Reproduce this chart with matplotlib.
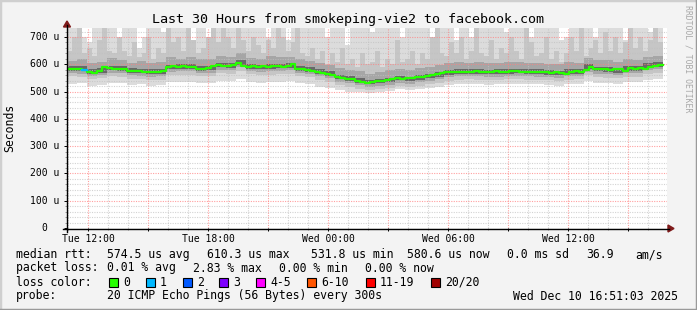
import numpy as np
import matplotlib
matplotlib.use('Agg')
import matplotlib.pyplot as plt
import matplotlib.transforms as mtransforms
from matplotlib.patches import Rectangle, Polygon
from matplotlib.lines import Line2D

W, H = 697, 310
MONO = 'DejaVu Sans Mono'

# time in hours since Tue 00:00
t_start, t_end = 10.95, 40.75
x_lim = (10.95, 40.95)
y_lim = (0, 733)

label_hours = [12, 18, 24, 30, 36]
label_text = ['Tue 12:00', 'Tue 18:00', 'Wed 00:00', 'Wed 06:00', 'Wed 12:00']
y_ticks = [0, 100, 200, 300, 400, 500, 600, 700]

# median rtt (us), one value per 15 min
median = [584, 584, 582, 579, 572, 569, 576, 590, 585, 581,
          583, 582, 575, 577, 574, 573, 571, 570, 572, 575,
          589, 592, 591, 593, 591, 590, 584, 581, 585, 594,
          597, 595, 594, 599, 606, 594, 591, 593, 589, 592,
          591, 593, 592, 589, 595, 600, 584, 582, 580, 574,
          571, 569, 565, 560, 552, 549, 547, 546, 540, 536,
          533, 535, 537, 540, 541, 546, 548, 545, 549, 550,
          553, 555, 558, 561, 564, 568, 570, 572, 571, 573,
          571, 572, 574, 570, 572, 571, 575, 573, 572, 574,
          575, 572, 573, 571, 572, 570, 571, 569, 570, 567,
          566, 572, 575, 573, 578, 590, 582, 581, 583, 580,
          584, 581, 576, 586, 583, 585, 583, 590, 594, 598]
loss_events = {3: 1}

# highest ping, per 15 min
ping_max = [735, 740, 740, 700, 680, 740, 740, 725, 740, 740,
            690, 740, 740, 740, 660, 700, 740, 740, 740, 720,
            740, 740, 740, 740, 740, 680, 740, 740, 690, 740,
            740, 740, 740, 740, 710, 740, 740, 740, 740, 740,
            700, 740, 740, 740, 690, 740, 740, 740, 740, 740,
            740, 740, 700, 740, 740, 740, 670, 740, 740, 740,
            740, 720, 740, 740, 740, 740, 740, 700, 740, 740,
            740, 740, 740, 680, 740, 740, 740, 740, 690, 740,
            740, 700, 740, 740, 740, 740, 740, 740, 720, 740,
            740, 740, 680, 700, 740, 740, 740, 740, 740, 690,
            700, 740, 740, 740, 740, 740, 700, 740, 740, 740,
            740, 740, 690, 740, 740, 740, 740, 720, 740, 740]

# upper spread of pings, per 15 min
p90 = [650, 700, 735, 640, 660, 630, 690, 735, 650, 640,
       700, 650, 630, 680, 625, 640, 700, 620, 660, 640,
       735, 680, 700, 650, 735, 690, 640, 660, 700, 735,
       680, 735, 700, 660, 735, 690, 650, 700, 670, 640,
       690, 660, 735, 700, 650, 680, 735, 640, 630, 660,
       620, 650, 600, 640, 610, 660, 600, 620, 590, 640,
       600, 610, 650, 590, 620, 600, 690, 610, 620, 650,
       600, 640, 620, 700, 735, 640, 630, 680, 640, 700,
       620, 650, 735, 640, 630, 690, 620, 660, 640, 700,
       650, 620, 735, 680, 630, 640, 700, 620, 650, 610,
       640, 700, 650, 735, 630, 660, 690, 640, 720, 650,
       700, 640, 680, 735, 660, 700, 650, 690, 735, 680]

# ping spread, per 30 min
ping_min = [528, 530, 522, 525, 532, 530, 524, 526, 522, 524, 535, 536, 536, 530, 532,
            540, 538, 545, 534, 532, 535, 536, 538, 530, 526, 518, 512, 505, 500, 498,
            494, 500, 503, 508, 505, 510, 514, 518, 524, 528, 528, 526, 525, 526, 528,
            529, 527, 526, 524, 522, 527, 528, 540, 532, 531, 528, 535, 534, 542, 545]
p10 = [556, 554, 545, 548, 556, 555, 547, 546, 543, 544, 560, 562, 562, 556, 557,
       568, 566, 576, 563, 560, 562, 563, 566, 556, 552, 544, 536, 524, 518, 511,
       505, 508, 512, 520, 517, 522, 527, 533, 540, 544, 545, 544, 542, 543, 545,
       546, 544, 543, 541, 539, 544, 545, 560, 552, 551, 548, 555, 555, 565, 568]
p30 = [568, 566, 557, 560, 569, 567, 559, 558, 555, 556, 573, 575, 574, 568, 569,
       580, 578, 589, 575, 573, 575, 576, 579, 568, 564, 556, 549, 536, 531, 523,
       517, 520, 524, 532, 529, 534, 539, 545, 552, 556, 557, 556, 554, 555, 557,
       558, 556, 555, 553, 551, 556, 557, 573, 565, 564, 560, 567, 567, 578, 581]
p40 = [577, 575, 565, 569, 578, 576, 568, 567, 564, 565, 582, 584, 584, 577, 578,
       590, 587, 598, 584, 582, 584, 585, 588, 577, 573, 564, 558, 545, 540, 533,
       526, 530, 534, 541, 538, 543, 548, 554, 561, 565, 566, 565, 563, 564, 566,
       567, 565, 564, 562, 560, 565, 566, 582, 574, 573, 569, 576, 576, 587, 590]
p60 = [593, 592, 582, 586, 594, 593, 585, 584, 581, 582, 598, 601, 600, 594, 595,
       606, 604, 615, 601, 598, 601, 602, 604, 594, 590, 581, 575, 562, 557, 550,
       544, 547, 551, 558, 555, 560, 565, 571, 578, 582, 583, 582, 580, 581, 583,
       584, 582, 581, 579, 577, 582, 583, 600, 591, 590, 586, 593, 593, 604, 608]
p70 = [612, 618, 606, 610, 622, 615, 606, 612, 604, 608, 625, 620, 628, 618, 620,
       632, 626, 640, 624, 620, 630, 626, 628, 618, 612, 604, 598, 585, 580, 575,
       566, 572, 578, 584, 580, 586, 590, 596, 604, 608, 606, 610, 604, 606, 610,
       608, 604, 606, 602, 600, 608, 606, 624, 616, 614, 610, 618, 616, 628, 630]

loss_labels = ['0', '1', '2', '3', '4-5', '6-10', '11-19', '20/20']
loss_colors = ['#26ff00', '#00b8ff', '#0059ff', '#7e00ff', '#ff00ff', '#ff5500', '#ff0000', '#a00000']
loss_box_x = [109, 146, 183, 219, 256, 307, 366, 431]

row_rtt = [('median rtt:', 16), ('574.5 us avg', 107), ('610.3 us max', 207), ('531.8 us min', 311),
           ('580.6 us now', 407), ('0.0 ms sd', 507), ('36.9', 586), ('am/s', 635)]
row_loss = [('packet loss:', 16), ('0.01 % avg', 107), ('2.83 % max', 193),
            ('0.00 % min', 279), ('0.00 % now', 365)]
row_probe = [('probe:', 16), ('20 ICMP Echo Pings (56 Bytes) every 300s', 107),
             ('Wed Dec 10 16:51:03 2025', 513)]


def fx(x):
    return x / W


def fy(y):
    return 1 - y / H


fig = plt.figure(figsize=(W / 100, H / 100), dpi=100, facecolor='#f3f3f3')
ax = fig.add_axes([fx(67), fy(228), 600 / W, 200 / H], facecolor='white')
ax.set_xlim(*x_lim)
ax.set_ylim(*y_lim)
for s in ax.spines.values():
    s.set_visible(False)


def steps(vals):
    edges = np.linspace(t_start, t_end, len(vals) + 1)
    return edges, np.append(vals, vals[-1])


def band(lo, hi, color):
    e1, lo_s = steps(lo)
    e2, hi_s = steps(hi)
    if len(lo) != len(hi):
        # put both on the finer grid
        e = np.union1d(e1, e2)
        lo_s = np.array(lo + [lo[-1]])[np.clip(np.searchsorted(e1, e, side='right') - 1, 0, len(lo))]
        hi_s = np.array(hi + [hi[-1]])[np.clip(np.searchsorted(e2, e, side='right') - 1, 0, len(hi))]
        e1 = e
    ax.fill_between(e1, lo_s, hi_s, step='post', color=color, lw=0, zorder=1)


# smoke
band(ping_min, ping_max, '#dcdcdc')
band(p10, p90, '#c6c6c6')
band(p30, p70, '#a6a6a6')
band(p40, p60, '#686868')

# grid
for h in range(11, 41):
    major = h % 3 == 0
    ax.axvline(h, color='#ff8080' if major else '#c0c0c0', alpha=0.75 if major else 0.7,
               lw=0.8, ls=(0, (1, 1.2)), zorder=2)
for v in range(20, 740, 20):
    major = v % 100 == 0
    ax.axhline(v, color='#ff8080' if major else '#c0c0c0', alpha=0.75 if major else 0.7,
               lw=0.8, ls=(0, (1, 1.2)), zorder=2)

# median line
edges_med, med_s = steps(median)
ax.plot(edges_med, med_s, drawstyle='steps-post', color=loss_colors[0], lw=1.6, zorder=3)
for i, n in loss_events.items():
    ax.plot(edges_med[i:i + 2], [median[i], median[i]], color=loss_colors[n], lw=1.6, zorder=4)

# ticks
ax.set_xticks(range(12, 40, 3))
ax.set_xticklabels([label_text[label_hours.index(h)] if h in label_hours else ''
                    for h in range(12, 40, 3)], family=MONO, fontsize=7.05)
ax.set_xticks(range(11, 41), minor=True)
ax.set_yticks(y_ticks)
ax.set_yticklabels([])
ax.set_yticks(range(20, 740, 20), minor=True)
ax.tick_params(axis='both', which='major', length=2.2, width=0.7, color='black', pad=2)
ax.tick_params(axis='both', which='minor', length=1.5, width=0.7, color='#999999')
ax.tick_params(axis='y', which='both', labelleft=False)

ytrans = mtransforms.blended_transform_factory(fig.transFigure, ax.transData)
for v in y_ticks:
    if v == 0:
        ax.text(fx(47), v, '0', transform=ytrans, ha='right', va='center',
                family=MONO, fontsize=7.05)
    else:
        ax.text(fx(59), v, '%d u' % v, transform=ytrans, ha='right', va='center',
                family=MONO, fontsize=7.05)

# axis lines and arrows
fig.add_artist(Line2D([fx(63), fx(669)], [fy(228.5), fy(228.5)], color='black', lw=1.0))
fig.add_artist(Line2D([fx(67), fx(67)], [fy(232), fy(25)], color='black', lw=1.0))
fig.add_artist(Polygon([(fx(668), fy(225)), (fx(668), fy(232)), (fx(674), fy(228.5))],
                       closed=True, color='#7f1a1a', transform=fig.transFigure))
fig.add_artist(Polygon([(fx(63.5), fy(27)), (fx(70.5), fy(27)), (fx(67), fy(21))],
                       closed=True, color='#7f1a1a', transform=fig.transFigure))

# texts
fig.text(0.5, fy(19), 'Last 30 Hours from smokeping-vie2 to facebook.com',
         ha='center', va='center', family=MONO, fontsize=9.6)
fig.text(fx(10), fy(128), 'Seconds', rotation=90, ha='center', va='center',
         family=MONO, fontsize=8.3)
fig.text(fx(688), fy(59), 'RRDTOOL / TOBI OETIKER', rotation=270, ha='center', va='center',
         family=MONO, fontsize=5.9, color='#a8a8a8')

for row, y in [(row_rtt, 254.5), (row_loss, 268), (row_probe, 296)]:
    for s, x in row:
        fig.text(fx(x), fy(y), s, ha='left', va='center', family=MONO, fontsize=8.3)

fig.text(fx(16), fy(282), 'loss color:', ha='left', va='center', family=MONO, fontsize=8.3)
for lab, col, x in zip(loss_labels, loss_colors, loss_box_x):
    fig.add_artist(Rectangle((fx(x), fy(282 + 4.5)), 9 / W, 9 / H, facecolor=col,
                             edgecolor='black', lw=0.8, transform=fig.transFigure))
    fig.text(fx(x + 14), fy(282), lab, ha='left', va='center', family=MONO, fontsize=8.3)

# frame
fig.add_artist(Line2D([0, 0], [0, 1], color='#cfcfcf', lw=2.5))
fig.add_artist(Line2D([0, 1], [1, 1], color='#cfcfcf', lw=2.5))
fig.add_artist(Line2D([1, 1], [0, 1], color='#9a9a9a', lw=2.5))
fig.add_artist(Line2D([0, 1], [0, 0], color='#9a9a9a', lw=2.5))

fig.savefig('out.png', dpi=100, facecolor=fig.get_facecolor())
